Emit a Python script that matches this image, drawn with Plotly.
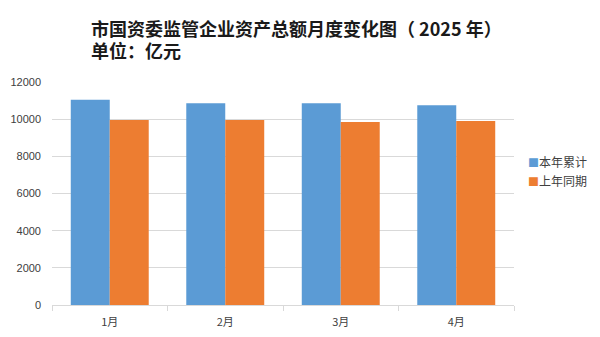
import plotly.graph_objects as go

months = ["1月", "2月", "3月", "4月"]
this_year = [11050, 10850, 10850, 10750]
last_year = [9950, 9950, 9850, 9900]
series_names = ["本年累计", "上年同期"]
colors = ["#5B9BD5", "#ED7D31"]
y_ticks = [0, 2000, 4000, 6000, 8000, 10000, 12000]
y_ticktext = [str(v) for v in y_ticks]
title_lines = ["市国资委监管企业资产总额月度变化图（ 2025 年）", "单位：亿元"]

font_family = "Noto Sans CJK SC, Noto Sans, sans-serif"
L, R, T, B = 52, 86, 82, 32
PW, PH = 600 - L - R, 337 - T - B

fig = go.Figure()
for name, vals, col in zip(series_names, [this_year, last_year], colors):
    fig.add_trace(go.Bar(x=months, y=vals, name=name, marker_color=col,
                         marker_line_width=0, showlegend=False))
# legend entries: small coloured square glyph right before the label
for name, col in zip(series_names, colors):
    fig.add_trace(go.Scatter(
        x=[None], y=[None], mode="markers",
        name=f'<span style="color:{col};font-size:11px">■</span>{name}',
        marker=dict(symbol="square", size=0, color="rgba(0,0,0,0)",
                    line=dict(width=0, color="rgba(0,0,0,0)"))))

fig.update_layout(
    width=600, height=337,
    margin=dict(l=L, r=R, t=T, b=B, autoexpand=False),
    paper_bgcolor="white", plot_bgcolor="white",
    barmode="group", bargap=0.325, bargroupgap=0,
    font=dict(family=font_family, color="#404040", size=11),
    legend=dict(x=(488 - L) / PW, y=(305 - 148) / PH, xanchor="left", yanchor="top",
                font=dict(size=12, color="#404040"), tracegroupgap=0,
                bgcolor="rgba(0,0,0,0)"),
    showlegend=True,
)
for txt, yc in zip(title_lines, [27.5, 50.5]):
    fig.add_annotation(text="<b>" + txt + "</b>",
                       xref="paper", yref="paper", align="left",
                       x=(89 - L) / PW, y=(305 - yc) / PH,
                       xanchor="left", yanchor="middle", showarrow=False,
                       font=dict(size=18, color="#1a1a1a", family=font_family))
fig.update_xaxes(
    showline=True, linecolor="#d9d9d9", linewidth=1,
    ticks="outside", tickson="boundaries", ticklen=5, tickcolor="#d9d9d9",
    showgrid=False, tickfont=dict(size=11, color="#404040"),
    ticklabelstandoff=7,
)
fig.update_yaxes(
    range=[0, 12000], tickvals=y_ticks, ticktext=y_ticktext,
    showgrid=True, gridcolor="#d9d9d9",
    zeroline=False, showline=False,
    tickfont=dict(size=11, color="#404040", family="Liberation Sans, Arial, sans-serif"),
    ticks="", ticklabelstandoff=10,
)
fig.write_html("out.html")
